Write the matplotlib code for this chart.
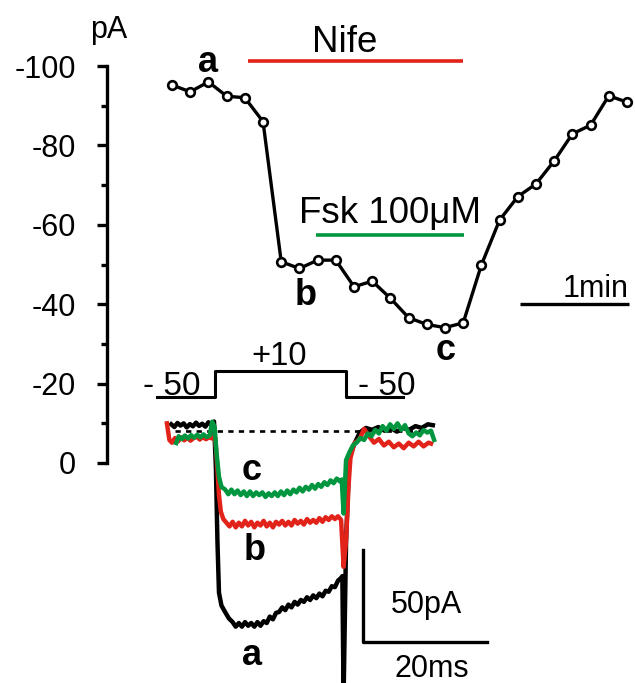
import matplotlib
matplotlib.use("Agg")
import matplotlib.pyplot as plt

plt.rcParams["font.family"] = ["Liberation Sans", "DejaVu Sans"]

# ---- time course (sampled every 10 s) ----
tc_time_s = [0, 10, 20, 30, 40, 50, 60, 70, 80, 90, 100, 110, 120,
             130, 140, 150, 160, 170, 180, 190, 200, 210, 220, 230, 240, 250]
tc_current_pA = [-95.2, -93.5, -96.0, -92.4, -92.0, -86.0, -50.7, -49.0, -51.1,
                 -51.1, -44.4, -45.8, -41.5, -36.6, -34.9, -34.1, -35.3, -49.9,
                 -61.2, -67.1, -70.3, -76.1, -82.9, -85.1, -92.5, -90.9]
nife_on_off = [41.8, 159.7]
fsk_on_off = [79.1, 160.4]

# ---- current traces (ms, pA) ----
a_t = [-6.9, -6.4, -5.9, -5.4, -4.9, -4.4, -3.9, -3.4, -2.9, -2.4, -1.9, -1.4, -0.9, -0.4, 0.0,
       0.3, 0.55, 0.8, 1.2, 1.7, 2.4,
       3.0, 3.5, 4.0, 4.5, 5.0, 5.5, 6.0, 6.5, 7.0, 7.5, 8.0, 8.5, 9.0, 9.5, 10.0, 10.5,
       11.0, 11.5, 12.0, 12.5, 13.0, 13.5, 14.0, 14.5, 15.0, 15.5, 16.0, 16.5, 17.0, 17.5,
       18.0, 18.5, 19.0, 19.5, 20.0, 20.5, 20.7,
       20.9, 21.3, 21.8, 22.6, 23.5, 24.5, 25.5, 26.5, 27.5, 28.5, 29.5, 30.5, 31.5, 32.5,
       33.5, 34.5, 35.3]
a_I = [3.5, 2.0, 4.2, 2.8, 4.0, 1.8, 3.6, 2.4, 4.4, 2.6, 3.8, 2.2, 4.6, 3.0, 5.0,
       -20, -60, -88, -95, -98, -102,
       -104, -106.5, -104.5, -106.5, -104, -106, -104.5, -106.5, -104, -106, -103.5, -104.5,
       -101, -102.5, -99, -98.5,
       -96, -97.5, -94.5, -96, -93, -94.5, -92, -93, -90.5, -92, -89.5, -91, -88.5, -90,
       -87, -87.5, -84.5, -85, -81.5, -80, -79,
       -145, -60, -15, -7.5, -1, 1.5, 0.5, 2, 0, 1.5, -0.5, 1.5, 0.5, 2.5,
       1.5, 3.5, 3.0]

b_t = [-7.6, -7.2, -6.8, -6.3, -5.8, -5.3, -4.8, -4.3, -3.8, -3.3, -2.8, -2.3, -1.8, -1.3, -0.8, -0.3, 0.2,
       0.5, 0.8, 1.1, 1.5, 2.0,
       2.5, 3.0, 3.5, 4.0, 4.5, 5.0, 5.5, 6.0, 6.5, 7.0, 7.5, 8.0, 8.5, 9.0, 9.5, 10.0, 10.5,
       11.0, 11.5, 12.0, 12.5, 13.0, 13.5, 14.0, 14.5, 15.0, 15.5, 16.0, 16.5, 17.0, 17.5,
       18.0, 18.5, 19.0, 19.5, 20.0, 20.5,
       20.9, 21.3, 21.7, 22.0, 22.6, 23.5, 24.2, 25.0, 25.8, 26.6, 27.4, 28.2, 29.0, 29.8,
       30.6, 31.4, 32.2, 33.0, 33.8, 34.6, 35.0]
b_I = [4.0, -5.0, -6.5, -4.0, -5.8, -3.6, -5.2, -3.8, -5.4, -4.0, -3.2, -4.8, -3.4, -4.6, -3.6, -4.2, -4.0,
       -18, -35, -44, -48, -50,
       -52, -49.5, -52.5, -50, -52, -49, -51.5, -49.5, -52.5, -50, -51.5, -49, -52, -50, -52.5,
       -49.5, -51,
       -49, -51.5, -49.5, -51.5, -48.5, -50.5, -49, -51, -48, -50, -48.5, -50, -47.5, -49.5,
       -47, -48.5, -46.5, -48, -46.5, -48.5,
       -74, -60, -30, -15, -7, -4.5, 1.0, -3.0, -6.5, -4.5, -8.0, -6.0, -9.0, -7.0,
       -9.5, -6.5, -8.5, -6.0, -8.5, -6.5, -7.0]

c_t = [-6.1, -5.7, -5.2, -4.7, -4.2, -3.7, -3.2, -2.7, -2.2, -1.7, -1.2, -0.7, -0.3, 0.1,
       0.4, 0.8, 1.2, 1.8,
       2.3, 2.8, 3.3, 3.8, 4.3, 4.8, 5.3, 5.8, 6.3, 6.8, 7.3, 7.8, 8.3, 8.8, 9.3, 9.8, 10.3,
       10.8, 11.3, 11.8, 12.3, 12.8, 13.3, 13.8, 14.3, 14.8, 15.3, 15.8, 16.3, 16.8, 17.3,
       17.8, 18.3, 18.8, 19.3, 19.8, 20.3, 20.6,
       20.9, 21.3, 21.8, 22.4, 23.0, 23.6, 24.2, 24.8, 25.4, 26.0, 26.6, 27.2, 27.8, 28.4,
       29.0, 29.6, 30.2, 30.8, 31.4, 32.0, 32.6, 33.2, 33.8, 34.4, 35.0, 35.5]
c_I = [-6.7, -3.0, -4.6, -2.6, -4.2, -2.4, -3.8, -2.2, -3.6, -2.0, -3.4, -2.6, 4.9, 2.0,
       -12, -25, -30.5, -32,
       -34.5, -32, -34.5, -32.5, -35, -33, -35.5, -33, -35.5, -33.5, -35, -33.5, -36, -34,
       -35.5, -33.5, -35.5,
       -33, -35, -32.5, -34.5, -32, -33.5, -31, -33, -30.5, -32, -29.5, -31.5, -29, -30.5,
       -28, -29.5, -27, -28.5, -26, -27.5, -26.5,
       -45, -16, -12, -8, -6.5, -4.0, -5.0, -1.5, -3.0, 0.5, -1.5, 2.5, 0.0, 3.5,
       1.0, 4.0, 0.5, 3.0, -1.5, -3.0, -1.0, -2.5, 0.4, -1.0, 0.0, -5.0]

# voltage protocol (ms, mV)
step_t = [-9.2, 0.2, 0.2, 21.3, 21.3, 30.5]
step_v = [-50, -50, 10, 10, -50, -50]

RED = "#e2231a"
GREEN = "#00963f"
FS = 22

fig = plt.figure(figsize=(6.35, 6.83), dpi=100)

# ======================================================
# time course axes
# ======================================================
ax = fig.add_axes([106.7 / 635, 1 - 463 / 683, 1 - 106.7 / 635, 397 / 683])
ax.set_xlim(-35.9, 254.4)
ax.set_ylim(0, -100)
ax.plot(tc_time_s, tc_current_pA, color="black", lw=2.4, marker="o", ms=6.2,
        mfc="white", mec="black", mew=1.9, clip_on=False, zorder=3)
ax.plot(nife_on_off, [-101.3, -101.3], color=RED, lw=2.6, clip_on=False, solid_capstyle="butt")
ax.plot(fsk_on_off, [-57.4, -57.4], color=GREEN, lw=2.6, clip_on=False, solid_capstyle="butt")
ax.plot([191, 251], [-40, -40], color="black", lw=2.4, clip_on=False, solid_capstyle="butt")

for s in ["top", "right", "bottom"]:
    ax.spines[s].set_visible(False)
ax.spines["left"].set_linewidth(2.4)
ax.set_xticks([])
ax.set_yticks([0, -20, -40, -60, -80, -100])
ax.set_yticklabels(["0", "-20", "-40", "-60", "-80", "-100"])
ax.set_yticks([-10, -30, -50, -70, -90], minor=True)
ax.tick_params(axis="y", which="major", length=7, width=2.4, pad=15, labelsize=FS)
ax.tick_params(axis="y", which="minor", length=4.5, width=2.4)
ax.patch.set_alpha(0)

ax.text(-34.6, -107, "pA", fontsize=FS, ha="center", va="baseline")
ax.text(95, -103.6, "Nife", fontsize=26.5, ha="center", va="baseline")
ax.text(119.8, -60.5, "Fsk 100\u03bcM", fontsize=26.5, ha="center", va="baseline")
ax.text(233, -41.9, "1min", fontsize=FS, ha="center", va="baseline")
ax.text(19.8, -98.5, "a", fontsize=26, fontweight="bold", ha="center", va="baseline")
ax.text(73.6, -39.8, "b", fontsize=26, fontweight="bold", ha="center", va="baseline")
ax.text(150.5, -25.9, "c", fontsize=26, fontweight="bold", ha="center", va="baseline")

# ======================================================
# current traces inset
# ======================================================
rect = [140 / 635, 0, 360 / 635, 343 / 683]
ax2 = fig.add_axes(rect)
ax2.set_xlim(-11.94, 46.13)
ax2.set_ylim(-137.1, 49.3)
ax2.axis("off")
ax2.plot([-6.3, 35.2], [0, 0], color="black", lw=1.9, ls=(0, (2.0, 2.0)))
ax2.plot(a_t, a_I, color="black", lw=3.2, clip_on=False)
ax2.plot(b_t, b_I, color=RED, lw=3.2, clip_on=False)
ax2.plot(c_t, c_I, color=GREEN, lw=3.2, clip_on=False)
# scale bars 50 pA / 20 ms
ax2.plot([24.07, 24.07, 44.0], [-64.8, -114.7, -114.7], color="black", lw=2.4)
ax2.text(34.2, -99.2, "50pA", fontsize=FS, ha="center", va="baseline")
ax2.text(35.2, -133.9, "20ms", fontsize=FS, ha="center", va="baseline")
ax2.text(6.08, -127.3, "a", fontsize=26, fontweight="bold", ha="center", va="baseline")
ax2.text(6.6, -70.3, "b", fontsize=26, fontweight="bold", ha="center", va="baseline")
ax2.text(6.08, -26.8, "c", fontsize=26, fontweight="bold", ha="center", va="baseline")

# voltage step
ax3 = fig.add_axes(rect)
ax3.set_xlim(-11.94, 46.13)
ax3.set_ylim(-710.7, 80.8)
ax3.axis("off")
ax3.plot(step_t, step_v, color="black", lw=2.2)
ax3.text(-6.8, -46, "- 50", fontsize=24, ha="center", va="baseline")
ax3.text(10.5, 23, "+10", fontsize=23.5, ha="center", va="baseline")
ax3.text(27.9, -46, "- 50", fontsize=24, ha="center", va="baseline")

fig.savefig("out.png", dpi=100)
